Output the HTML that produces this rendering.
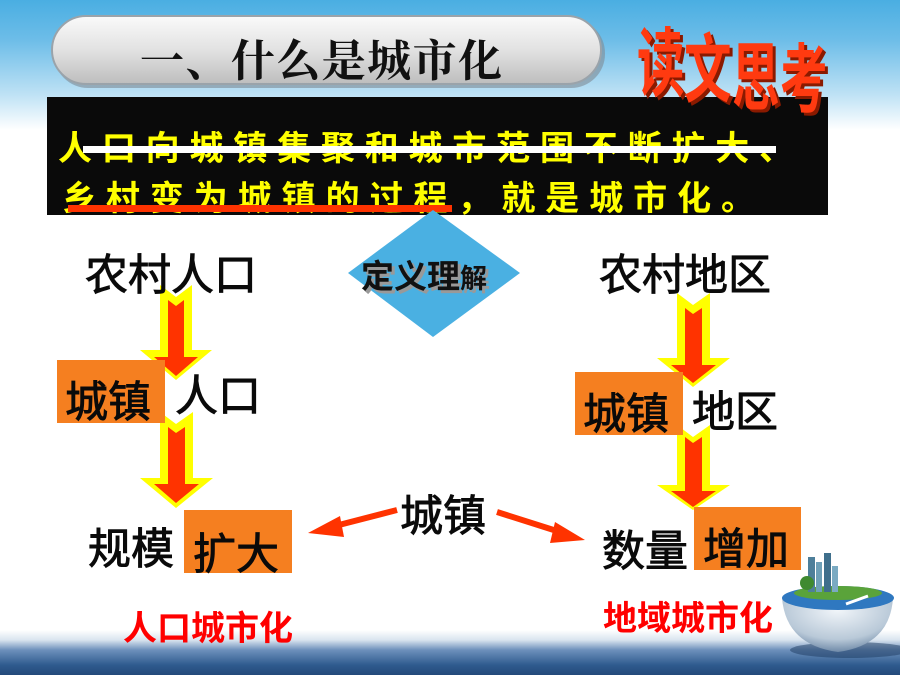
<!DOCTYPE html>
<html><head><meta charset="utf-8"><style>
html,body{margin:0;padding:0;}
body{width:900px;height:675px;overflow:hidden;position:relative;
background:linear-gradient(to bottom,#4aaee2 0px,#6dbde8 40px,#bfe2f5 95px,#fff 130px,#fff 630px,#d9e4ef 640px,#6d90bb 650px,#2f5b8e 665px,#23497a 675px);
font-family:"Liberation Sans","Noto Sans CJK SC",sans-serif;}
svg{position:absolute;left:0;top:0;}
</style></head><body>
<svg width="900" height="675" viewBox="0 0 900 675" xmlns="http://www.w3.org/2000/svg">
<defs>
<linearGradient id="pill" x1="0" y1="0" x2="0" y2="1">
<stop offset="0" stop-color="#fafafa"/><stop offset="0.5" stop-color="#e2e2e2"/><stop offset="1" stop-color="#bdbdbd"/>
</linearGradient>
<radialGradient id="globe" cx="0.5" cy="0.3" r="0.7">
<stop offset="0" stop-color="#f2f6fa"/><stop offset="0.7" stop-color="#b9c9d8"/><stop offset="1" stop-color="#6f8aa8"/>
</radialGradient>
</defs>
<!-- title pill -->
<rect x="54" y="19" width="551" height="69" rx="34" fill="#7e8a94" opacity="0.6"/>
<rect x="52" y="16" width="549" height="68" rx="34" fill="url(#pill)" stroke="#9aa3aa" stroke-width="2"/>
<text x="140" y="76" font-family="'Noto Serif CJK SC',serif" font-weight="bold" font-size="44" fill="#111" textLength="362" lengthAdjust="spacing">一、什么是城市化</text>

<!-- black box -->
<rect x="47" y="97" width="781" height="118" fill="#0a0a0a"/>
<text x="58" y="160" font-size="34" font-weight="bold" fill="#ffff00" textLength="735" lengthAdjust="spacing" font-family="'Noto Sans CJK SC',sans-serif">人口向城镇集聚和城市范围不断扩大、</text>
<rect x="83" y="146" width="693" height="7" fill="#ffffff"/>
<text x="62" y="210" font-size="34" font-weight="bold" fill="#ffff00" textLength="693" lengthAdjust="spacing" font-family="'Noto Sans CJK SC',sans-serif">乡村变为城镇的过程，就是城市化。</text>
<rect x="68" y="205" width="384" height="7" fill="#ff3300"/>

<!-- 读文思考 -->
<g font-size="50" font-weight="bold" font-family="'Noto Sans CJK SC',sans-serif">
<g fill="#8a1a00" transform="translate(3,3)">
<text transform="translate(637,90) scale(0.95,1.5)">读</text>
<text transform="translate(684,96) scale(0.95,1.5)">文</text>
<text transform="translate(732,104) scale(0.95,1.5)">思</text>
<text transform="translate(780,106) scale(0.95,1.5)">考</text>
</g>
<g fill="#ff3a10">
<text transform="translate(637,90) scale(0.95,1.5)">读</text>
<text transform="translate(684,96) scale(0.95,1.5)">文</text>
<text transform="translate(732,104) scale(0.95,1.5)">思</text>
<text transform="translate(780,106) scale(0.95,1.5)">考</text>
</g>
</g>

<!-- diamond -->
<polygon points="433,210 520,273 433,337 348,273" fill="#4ab0e2"/>
<g font-size="33" font-weight="bold" font-family="'Noto Sans CJK SC',sans-serif">
<text x="364" y="291" fill="#999">定义理<tspan font-size="27">解</tspan></text>
<text x="361" y="288" fill="#111">定义理<tspan font-size="27">解</tspan></text>
</g>

<!-- arrows -->
<g>
<polygon points="160,285 176,297 192,285 192,350 212,350 176,380 140,350 160,350" fill="#ffff00"/>
<polygon points="168,300 176,306 184,300 184,357 198,357 176,376 154,357 168,357" fill="#ff3300"/>
<polygon points="160,412 176,424 193,412 193,478 213,478 176,508 140,478 160,478" fill="#ffff00"/>
<polygon points="168,427 176,433 185,427 185,484 199,484 176,503 154,484 168,484" fill="#ff3300"/>
<polygon points="677,293 693,305 710,293 710,358 730,358 693,387 657,358 677,358" fill="#ffff00"/>
<polygon points="685,308 693,314 702,308 702,365 716,365 693,383 671,365 685,365" fill="#ff3300"/>
<polygon points="677,425 693,437 710,425 710,485 730,485 693,510 657,485 677,485" fill="#ffff00"/>
<polygon points="685,437 693,443 702,437 702,491 716,491 693,507 671,491 685,491" fill="#ff3300"/>
</g>

<!-- orange boxes -->
<rect x="57" y="360" width="108" height="63" fill="#f57f20"/>
<rect x="184" y="510" width="108" height="63" fill="#f57f20"/>
<rect x="575" y="372" width="108" height="63" fill="#f57f20"/>
<rect x="694" y="507" width="107" height="63" fill="#f57f20"/>

<g font-size="43" fill="#0a0a0a" stroke="#0a0a0a" stroke-width="0.9" font-family="'Noto Sans CJK SC',sans-serif">
<text x="85" y="290">农村人口</text>
<text x="65" y="417">城镇</text>
<text x="175" y="411">人口</text>
<text x="88" y="564">规模</text>
<text x="193" y="569">扩大</text>
<text x="599" y="290">农村地区</text>
<text x="583" y="429">城镇</text>
<text x="692" y="427">地区</text>
<text x="602" y="566">数量</text>
<text x="703" y="564">增加</text>
<text x="400" y="531">城镇</text>
</g>

<!-- center arrows -->
<line x1="397" y1="510" x2="335" y2="526" stroke="#ff3300" stroke-width="6"/>
<polygon points="308,533 340,516 344,537" fill="#ff3300"/>
<line x1="497" y1="512" x2="560" y2="532" stroke="#ff3300" stroke-width="6"/>
<polygon points="585,540 555,522 550,543" fill="#ff3300"/>

<!-- red labels -->
<g font-size="34" font-weight="bold" fill="#ff0000" font-family="'Noto Sans CJK SC',sans-serif">
<text x="123" y="640">人口城市化</text>
<text x="603" y="630">地域城市化</text>
</g>

<!-- globe -->
<ellipse cx="850" cy="650" rx="60" ry="8" fill="#1c3a60" opacity="0.5"/>
<path d="M782,598 Q838,585 893,598 Q890,645 838,652 Q786,645 782,598 Z" fill="url(#globe)"/>
<ellipse cx="838" cy="598" rx="56" ry="12" fill="#2f78c0"/>
<ellipse cx="838" cy="593" rx="44" ry="7" fill="#5aa33a"/>
<rect x="808" y="557" width="7" height="35" fill="#4e7f9a"/>
<rect x="816" y="562" width="6" height="30" fill="#6ea0b8"/>
<rect x="824" y="553" width="7" height="39" fill="#3f6f8c"/>
<rect x="832" y="566" width="6" height="26" fill="#7aaac2"/>
<circle cx="807" cy="583" r="7" fill="#3f8a30"/>
<path d="M846,604 L868,596" stroke="#fff" stroke-width="3"/>
</svg>
</body></html>
